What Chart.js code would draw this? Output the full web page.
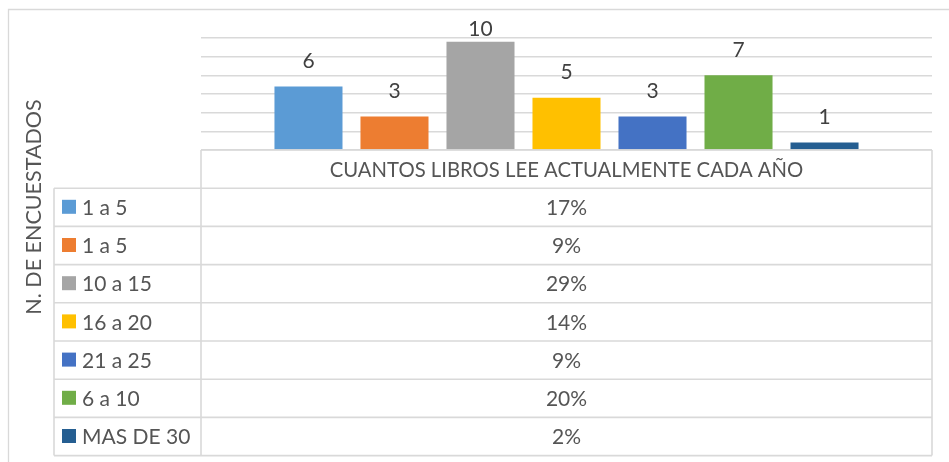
<!DOCTYPE html>
<html>
<head>
<meta charset="utf-8">
<script src="https://cdn.jsdelivr.net/npm/chart.js@4/dist/chart.umd.min.js"></script>
<style>
  html, body { margin: 0; padding: 0; background: #ffffff; }
  #wrap { width: 949px; height: 462px; position: relative; }
</style>
</head>
<body>
<div id="wrap"><canvas id="c" width="949" height="462"></canvas></div>
<script>
// ---- data ----
const categoryLabel = 'CUANTOS LIBROS LEE ACTUALMENTE CADA AÑO';
const seriesNames = ['1 a 5', '1 a 5', '10 a 15', '16 a 20', '21 a 25', '6 a 10', 'MAS DE 30'];
const counts = [6, 3, 10, 5, 3, 7, 1];
const percents = [17, 9, 29, 14, 9, 20, 2];
const percentLabels = ['17%', '9%', '29%', '14%', '9%', '20%', '2%'];
const yAxisTitle = 'N. DE ENCUESTADOS';

// ---- styles ----
const seriesColors = ['#5B9BD5', '#ED7D31', '#A5A5A5', '#FFC000', '#4472C4', '#70AD47', '#255E91'];
const FONT = 'Lato, "Open Sans", sans-serif';
const TEXT = '#555555';
const LINE = '#d9d9d9';
const ROW_H = 38.2;
const LEGEND_LEFT = 54;

const datasets = seriesNames.map((name, i) => ({
  label: name,
  data: [percents[i]],
  backgroundColor: seriesColors[i],
  borderWidth: 0,
  categoryPercentage: 0.8236,
  barPercentage: 0.791
}));

const decorPlugin = {
  id: 'decor',
  beforeDraw(chart) {
    const ctx = chart.ctx;
    ctx.save();
    ctx.fillStyle = '#ffffff';
    ctx.fillRect(0, 0, chart.width, chart.height);
    ctx.strokeStyle = LINE;
    ctx.lineWidth = 1.3;
    ctx.beginPath();
    ctx.moveTo(8.5, chart.height + 2);
    ctx.lineTo(8.5, 9.5);
    ctx.lineTo(chart.width + 2, 9.5);
    ctx.stroke();
    ctx.restore();
  },
  afterDatasetsDraw(chart) {
    const ctx = chart.ctx;
    const area = chart.chartArea;
    ctx.save();
    // data labels (counts)
    ctx.font = '21px ' + FONT;
    ctx.fillStyle = '#404040';
    ctx.textAlign = 'center';
    ctx.textBaseline = 'bottom';
    chart.data.datasets.forEach((ds, i) => {
      const bar = chart.getDatasetMeta(i).data[0];
      let yb = bar.y - 15;
      yb = Math.max(yb, 40);
      ctx.fillText(String(counts[i]), bar.x, yb);
    });

    // data table
    const top = area.bottom;
    const left = area.left;
    const right = area.right;
    const n = seriesNames.length;
    const bottom = top + ROW_H * (n + 1);
    ctx.strokeStyle = LINE;
    ctx.lineWidth = 1.6;
    ctx.beginPath();
    ctx.moveTo(left, top); ctx.lineTo(right, top);
    ctx.moveTo(left, top); ctx.lineTo(left, bottom);
    ctx.moveTo(right, top); ctx.lineTo(right, bottom);
    ctx.moveTo(LEGEND_LEFT, top + ROW_H); ctx.lineTo(LEGEND_LEFT, bottom);
    for (let r = 1; r <= n + 1; r++) {
      const y = top + ROW_H * r;
      ctx.moveTo(LEGEND_LEFT, y); ctx.lineTo(right, y);
    }
    ctx.stroke();

    ctx.fillStyle = TEXT;
    ctx.textBaseline = 'middle';
    ctx.textAlign = 'center';
    const cx = (left + right) / 2;
    ctx.font = '20.3px ' + FONT;
    ctx.fillText(categoryLabel, cx, top + ROW_H / 2 + 1);
    ctx.font = '21px ' + FONT;
    for (let r = 0; r < n; r++) {
      const yc = top + ROW_H * (r + 1) + ROW_H / 2 + 1;
      ctx.textAlign = 'center';
      ctx.fillStyle = TEXT;
      ctx.fillText(percentLabels[r], cx, yc);
      ctx.fillStyle = seriesColors[r];
      ctx.fillRect(LEGEND_LEFT + 8, yc - 8.5, 14, 14);
      ctx.fillStyle = TEXT;
      ctx.textAlign = 'left';
      ctx.fillText(seriesNames[r], LEGEND_LEFT + 28, yc);
    }

    // y axis title
    ctx.save();
    ctx.translate(34, 207);
    ctx.rotate(-Math.PI / 2);
    ctx.textAlign = 'center';
    ctx.textBaseline = 'middle';
    ctx.font = '21.5px ' + FONT;
    ctx.fillStyle = TEXT;
    ctx.fillText(yAxisTitle, 0, 0);
    ctx.restore();
    ctx.restore();
  }
};

new Chart(document.getElementById('c'), {
  type: 'bar',
  data: { labels: [categoryLabel], datasets },
  options: {
    responsive: false,
    animation: false,
    events: [],
    layout: { padding: { left: 201, right: 17, top: 38, bottom: 312 } },
    plugins: { legend: { display: false }, tooltip: { enabled: false }, title: { display: false } },
    scales: {
      x: { display: false, offset: true },
      y: {
        min: 0, max: 30,
        ticks: { display: false, stepSize: 5 },
        border: { display: false },
        grid: { color: LINE, lineWidth: 1.6, drawTicks: false, tickLength: 0 },
        afterFit(scale) { scale.width = 0; }
      }
    }
  },
  plugins: [decorPlugin]
});
</script>
</body>
</html>
